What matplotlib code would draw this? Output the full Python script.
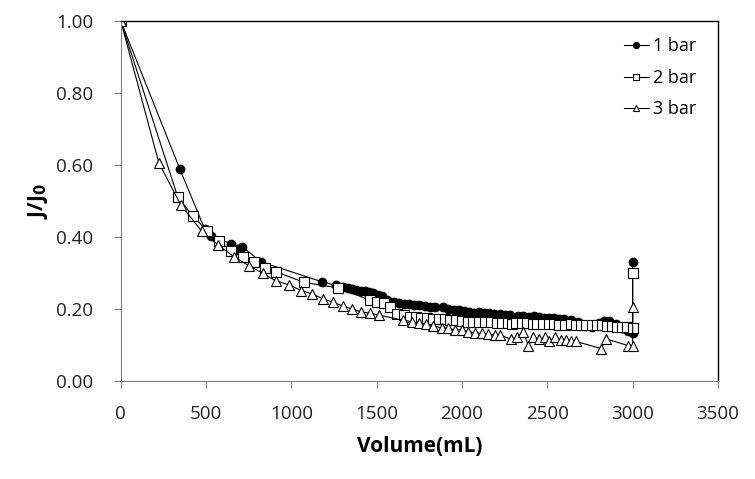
import matplotlib
matplotlib.use('Agg')
import matplotlib.pyplot as plt

plt.rcParams['font.family'] = ['Open Sans', 'DejaVu Sans']

# 1 bar (filled circles)
vol_1bar = [0, 346, 492, 526, 645, 680, 713, 821, 1177, 1260, 1303, 1330, 1355, 1380,
            1405, 1430, 1455, 1480, 1505, 1530, 1560, 1600, 1630, 1660, 1690, 1720, 1750,
            1780, 1810, 1840, 1890, 1920, 1950, 1980, 2010, 2040, 2070, 2100, 2130, 2160,
            2190, 2220, 2250, 2280, 2330, 2360, 2390, 2420, 2450, 2480, 2510, 2540, 2570,
            2600, 2640, 2680, 2720, 2760, 2800, 2830, 2860, 2900, 2940, 2970, 3000, 3000]
j_1bar = [1.00, 0.589, 0.422, 0.403, 0.382, 0.368, 0.373, 0.331, 0.276, 0.266, 0.262, 0.258,
          0.255, 0.252, 0.250, 0.249, 0.246, 0.245, 0.240, 0.235, 0.224, 0.220, 0.218, 0.215,
          0.213, 0.212, 0.210, 0.208, 0.206, 0.205, 0.205, 0.200, 0.198, 0.196, 0.195, 0.193,
          0.190, 0.191, 0.190, 0.188, 0.187, 0.185, 0.183, 0.182, 0.181, 0.180, 0.178, 0.180,
          0.177, 0.176, 0.175, 0.174, 0.172, 0.172, 0.170, 0.165, 0.152, 0.150, 0.162, 0.168,
          0.167, 0.158, 0.148, 0.140, 0.134, 0.331]

# 2 bar (open squares)
vol_2bar = [0, 334, 422, 504, 576, 647, 719, 783, 844, 908, 1073, 1270, 1459, 1501, 1541,
            1580, 1621, 1660, 1694, 1729, 1762, 1797, 1831, 1866, 1899, 1932, 1963, 1998,
            2032, 2065, 2100, 2134, 2169, 2202, 2237, 2270, 2290, 2319, 2349, 2381, 2413,
            2442, 2475, 2509, 2540, 2569, 2603, 2636, 2667, 2697, 2726, 2759, 2788, 2821,
            2851, 2878, 2907, 2937, 2964, 2999, 3000]
j_2bar = [1.00, 0.511, 0.459, 0.418, 0.389, 0.361, 0.345, 0.331, 0.314, 0.304, 0.274, 0.259,
          0.225, 0.220, 0.216, 0.205, 0.186, 0.183, 0.179, 0.179, 0.176, 0.176, 0.172, 0.172,
          0.171, 0.169, 0.169, 0.167, 0.165, 0.165, 0.163, 0.163, 0.163, 0.162, 0.162, 0.160,
          0.158, 0.160, 0.160, 0.162, 0.158, 0.158, 0.158, 0.158, 0.158, 0.156, 0.156, 0.158,
          0.156, 0.156, 0.156, 0.156, 0.156, 0.156, 0.154, 0.154, 0.151, 0.149, 0.149, 0.148,
          0.299]

# 3 bar (open triangles)
vol_3bar = [0, 223, 352, 473, 570, 664, 752, 834, 909, 988, 1059, 1122, 1186, 1244, 1303,
            1357, 1409, 1461, 1513, 1655, 1704, 1748, 1791, 1831, 1880, 1918, 1958, 1997,
            2036, 2075, 2114, 2153, 2192, 2222, 2287, 2324, 2358, 2389, 2417, 2452, 2485,
            2512, 2544, 2579, 2608, 2638, 2667, 2816, 2845, 2975, 3000, 3000]
j_3bar = [1.00, 0.606, 0.489, 0.417, 0.378, 0.345, 0.320, 0.299, 0.278, 0.267, 0.251, 0.242,
          0.228, 0.219, 0.208, 0.200, 0.192, 0.188, 0.183, 0.169, 0.165, 0.160, 0.157, 0.153,
          0.148, 0.146, 0.142, 0.142, 0.137, 0.134, 0.132, 0.130, 0.128, 0.128, 0.116, 0.121,
          0.137, 0.098, 0.121, 0.116, 0.121, 0.110, 0.121, 0.114, 0.114, 0.112, 0.110, 0.090,
          0.117, 0.098, 0.098, 0.206]

x_ticks = [0, 500, 1000, 1500, 2000, 2500, 3000, 3500]
y_ticks = [0.0, 0.2, 0.4, 0.6, 0.8, 1.0]

fig = plt.figure(figsize=(7.55, 4.79), dpi=100)
ax = fig.add_axes([0.160, 0.2046, 0.791, 0.7514])

ax.plot(vol_1bar, j_1bar, color='black', lw=0.8, marker='o', ms=6,
        mfc='black', mec='black', label='1 bar')
ax.plot(vol_2bar, j_2bar, color='black', lw=0.8, marker='s', ms=6.5,
        mfc='white', mec='black', mew=0.8, label='2 bar')
ax.plot(vol_3bar, j_3bar, color='black', lw=0.8, marker='^', ms=7,
        mfc='white', mec='black', mew=0.8, label='3 bar')

ax.set_xlim(0, 3500)
ax.set_ylim(0, 1.0)
ax.set_xticks(x_ticks)
ax.set_yticks(y_ticks)
ax.set_yticklabels([f'{v:.2f}' for v in y_ticks])
ax.tick_params(direction='out', length=5, width=0.8, color='#808080',
               labelsize=13.5, labelcolor='#222222')
ax.tick_params(axis='y', pad=15)
ax.tick_params(axis='x', pad=12)

for side in ['left', 'bottom']:
    ax.spines[side].set_color('#808080')
for side in ['top', 'right']:
    ax.spines[side].set_color('black')
    ax.spines[side].set_linewidth(1.0)

ax.set_xlabel('Volume(mL)', fontsize=15, fontweight='bold', labelpad=10)
ax.set_ylabel('J/J$_\\mathbf{0}$', fontsize=15, fontweight='bold', labelpad=4)

leg = ax.legend(loc='upper right', frameon=False, fontsize=13, handlelength=1.4,
                handletextpad=0.2, labelspacing=0.75, markerscale=0.7,
                bbox_to_anchor=(0.99, 1.0))

fig.savefig('out.png', dpi=100)
